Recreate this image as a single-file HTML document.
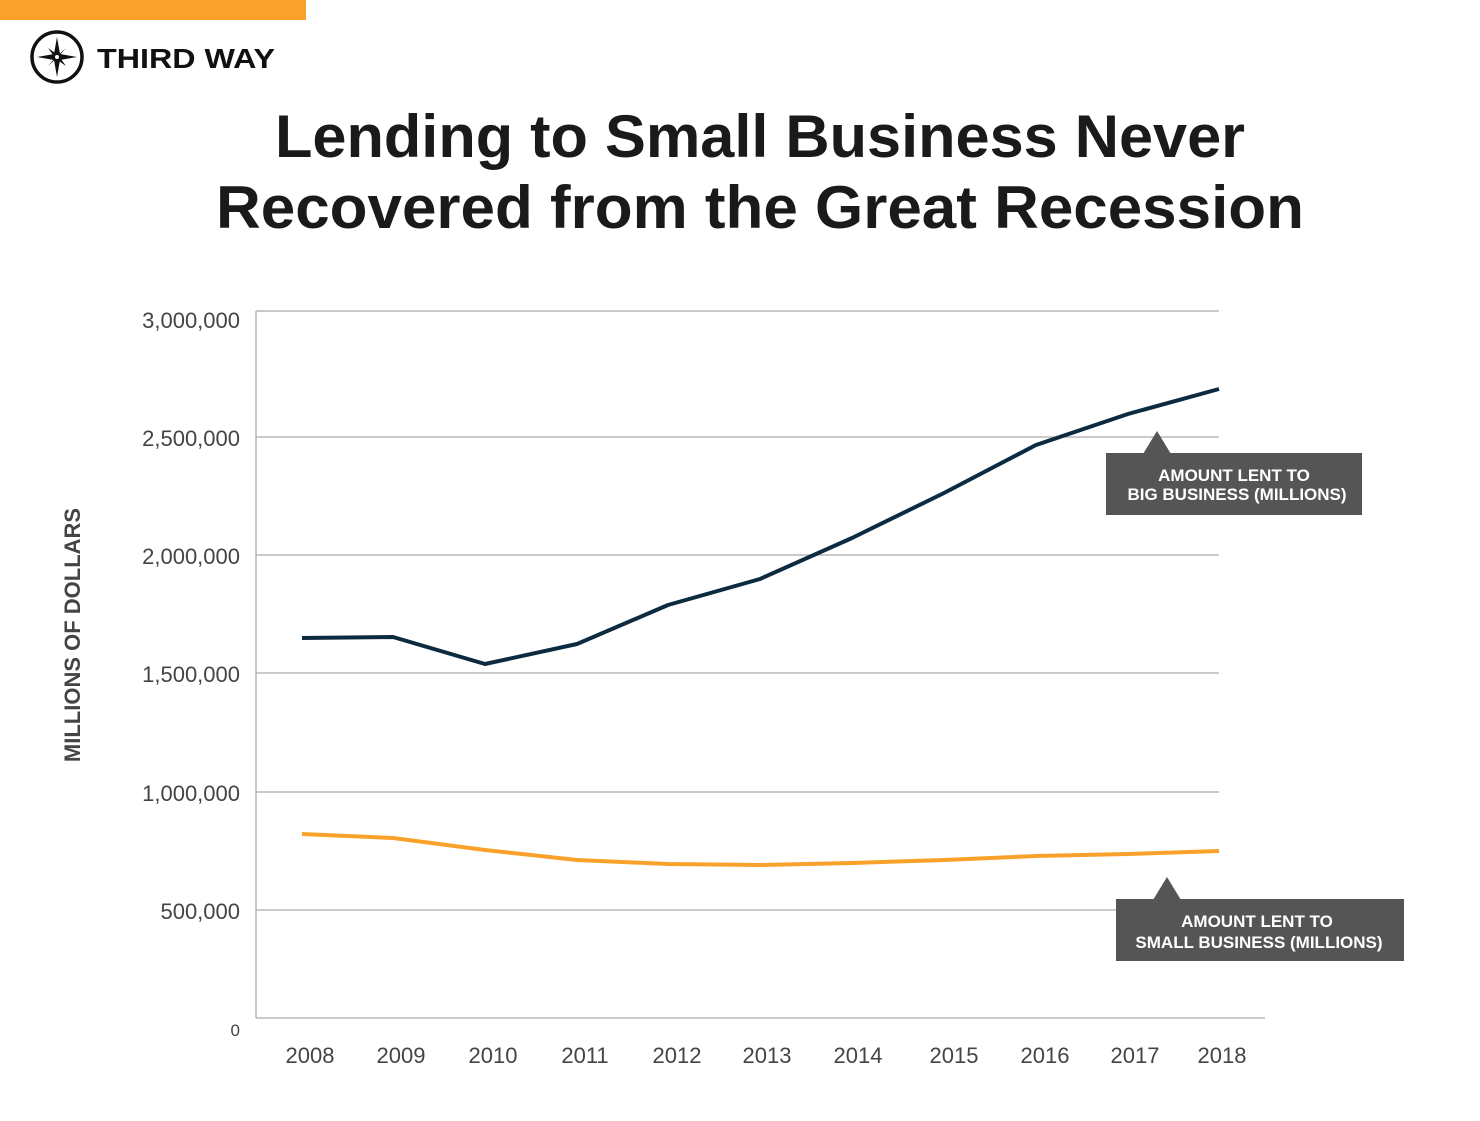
<!DOCTYPE html>
<html><head><style>
body{margin:0;background:#fff;}
svg{display:block;}
</style></head><body>
<svg width="1480" height="1121" viewBox="0 0 1480 1121" xmlns="http://www.w3.org/2000/svg">
<rect x="0" y="0" width="306" height="20" fill="#f9a12a"/>
<circle cx="57" cy="57" r="25" fill="none" stroke="#111" stroke-width="3.5"/>
<polygon points="57,37 60,54 77,57 60,60 57,77 54,60 37,57 54,54" fill="#111"/>
<polygon points="48,48 58,55 66,66 56,59" fill="#111"/>
<polygon points="66,48 59,56 48,66 55,58" fill="#111"/>
<circle cx="57" cy="57" r="2" fill="#fff"/>
<text x="97" y="68" font-family="Liberation Sans, sans-serif" font-weight="bold" font-size="28" fill="#111" textLength="178" lengthAdjust="spacingAndGlyphs">THIRD WAY</text>
<g font-family="Liberation Sans, sans-serif" font-weight="bold" font-size="60" fill="#1a1a1a" text-anchor="middle">
<text x="760" y="157" textLength="970" lengthAdjust="spacingAndGlyphs">Lending to Small Business Never</text>
<text x="760" y="228" textLength="1088" lengthAdjust="spacingAndGlyphs">Recovered from the Great Recession</text>
</g>
<g stroke="#aaa" stroke-width="1.3">
<line x1="256" y1="311" x2="1219" y2="311"/>
<line x1="256" y1="437" x2="1219" y2="437"/>
<line x1="256" y1="555" x2="1219" y2="555"/>
<line x1="256" y1="673" x2="1219" y2="673"/>
<line x1="256" y1="792" x2="1219" y2="792"/>
<line x1="256" y1="910" x2="1219" y2="910"/>
<line x1="256" y1="311" x2="256" y2="1018"/>
<line x1="256" y1="1018" x2="1265" y2="1018"/>
</g>
<g font-family="Liberation Sans, sans-serif" font-size="22" fill="#444" text-anchor="end">
<text x="240" y="328">3,000,000</text>
<text x="240" y="446">2,500,000</text>
<text x="240" y="564">2,000,000</text>
<text x="240" y="682">1,500,000</text>
<text x="240" y="801">1,000,000</text>
<text x="240" y="919">500,000</text>
<text x="240" y="1036" font-size="17">0</text>
</g>
<g font-family="Liberation Sans, sans-serif" font-size="22" fill="#444" text-anchor="middle">
<text x="310" y="1063">2008</text><text x="401" y="1063">2009</text><text x="493" y="1063">2010</text>
<text x="585" y="1063">2011</text><text x="677" y="1063">2012</text><text x="767" y="1063">2013</text>
<text x="858" y="1063">2014</text><text x="954" y="1063">2015</text><text x="1045" y="1063">2016</text>
<text x="1135" y="1063">2017</text><text x="1222" y="1063">2018</text>
</g>
<text transform="translate(80,635) rotate(-90)" font-family="Liberation Sans, sans-serif" font-weight="bold" font-size="22" fill="#444" text-anchor="middle">MILLIONS OF DOLLARS</text>
<polyline fill="none" stroke="#0d2b40" stroke-width="4" stroke-linejoin="round" points="302,638 393,637 485,664 577,644 668,605 760,579 852,538 944,493 1036,445 1128,414 1219,389"/>
<polyline fill="none" stroke="#f9a12a" stroke-width="4" stroke-linejoin="round" points="302,834 393,838 485,850 577,860 668,864 760,865 852,863 944,860 1036,856 1128,854 1219,851"/>
<polygon points="1157,431 1143,454 1171,454" fill="#555"/>
<rect x="1106" y="453" width="256" height="62" fill="#555"/>
<polygon points="1167,877 1153,900 1181,900" fill="#555"/>
<rect x="1116" y="899" width="288" height="62" fill="#555"/>
<g font-family="Liberation Sans, sans-serif" font-weight="bold" font-size="17" fill="#fff" text-anchor="middle">
<text x="1234" y="481">AMOUNT LENT TO</text>
<text x="1237" y="500">BIG BUSINESS (MILLIONS)</text>
<text x="1257" y="927">AMOUNT LENT TO</text>
<text x="1259" y="948">SMALL BUSINESS (MILLIONS)</text>
</g>
</svg>
</body></html>
